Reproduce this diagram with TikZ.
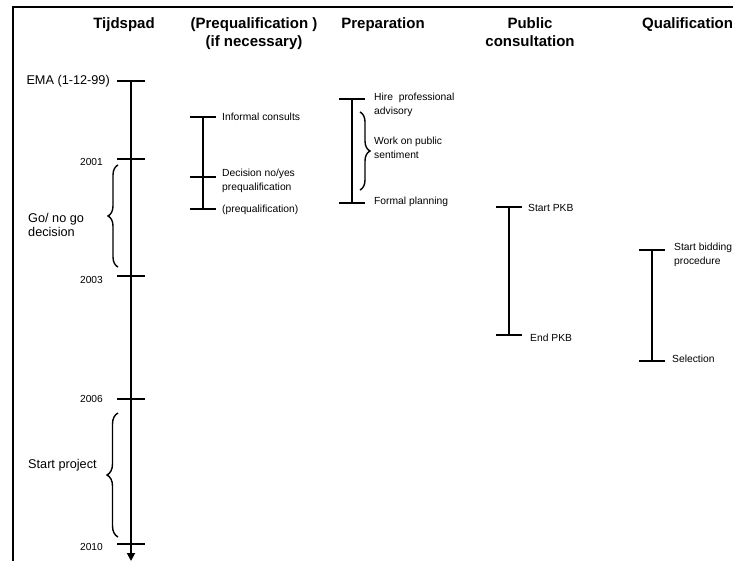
\documentclass[tikz,border=0pt]{standalone}
\usepackage{fontspec}
\setmainfont{Liberation Sans}
\usetikzlibrary{decorations.pathreplacing,arrows.meta}
\begin{document}
\begin{tikzpicture}[x=1pt,y=-1pt,
  frame/.style={line width=2.8pt},
  bar/.style={line width=1.8pt},
  curly/.style={decorate,decoration={brace,amplitude=#1,aspect=0.5},line width=1.4pt},
  title/.style={font=\fontsize{15}{18}\selectfont\bfseries,align=center,inner sep=0pt},
  big/.style={font=\fontsize{12.7}{14.5}\selectfont,align=left,inner sep=0pt},
  year/.style={font=\fontsize{10.2}{12}\selectfont,inner sep=0pt,anchor=east},
  small/.style={font=\fontsize{10.3}{14}\selectfont,inner sep=0pt,anchor=west,align=left},
]
\useasboundingbox (0,0) rectangle (733,561);
\clip (0,0) rectangle (733,561);

% outer frame (top and left edges)
\draw[frame] (13,561) -- (13,7) -- (733,7);

% column titles
\node[title] (hTijd) at (124,25) {Tijdspad};
\node[title,anchor=north] (hPre) at (254,17) {(Prequalification )\\(if necessary)};
\node[title] (hPrep) at (383,25) {Preparation};
\node[title,anchor=north] (hPub) at (530,17) {Public\\consultation};
\node[title,anchor=west] (hQual) at (642,25) {Qualification};

% ---- time axis ----
\coordinate (ema) at (131,81);
\coordinate (y01) at (131,159);
\coordinate (y03) at (131,276);
\coordinate (y06) at (131,399);
\coordinate (y10) at (131,544);
\coordinate (axend) at (131,561);
\draw[bar,-{Triangle[width=8pt,length=8pt]}] (ema) -- (axend);
\foreach \c in {ema,y01,y03,y06,y10}
  \draw[bar] ([xshift=-14pt]\c) -- ([xshift=14pt]\c);

\node[big,anchor=east] (lEma) at (110,81) {EMA (1-12-99)};
\node[year] (l01) at (103,162) {2001};
\node[year] (l03) at (103,280) {2003};
\node[year] (l06) at (103,399) {2006};
\node[year] (l10) at (103,547) {2010};

\coordinate (b1top) at (118,165);
\coordinate (b1bot) at (118,267);
\draw[curly=10pt] (b1bot) -- (b1top);
\node[big,anchor=west] (lGo) at (28,225) {Go/ no go\\decision};

\coordinate (b2top) at (118,413);
\coordinate (b2bot) at (118,537);
\draw[curly=11pt] (b2bot) -- (b2top);
\node[big,anchor=west] (lStart) at (28,465) {Start project};

% ---- prequalification ----
\coordinate (p1) at (203,117);
\coordinate (p2) at (203,177);
\coordinate (p3) at (203,209);
\draw[bar] (p1) -- (p3);
\foreach \c in {p1,p2,p3}
  \draw[bar] ([xshift=-13pt]\c) -- ([xshift=13pt]\c);
\node[small] (lInf) at (222,117) {Informal consults};
\node[small,anchor=north west] (lDec) at (222,169) {Decision no/yes\\prequalification};
\node[small] (lPq) at (222,210) {(prequalification)};

% ---- preparation ----
\coordinate (r1) at (352,99);
\coordinate (r2) at (352,203);
\draw[bar] (r1) -- (r2);
\foreach \c in {r1,r2}
  \draw[bar] ([xshift=-13pt]\c) -- ([xshift=13pt]\c);
\coordinate (b3top) at (360,112);
\coordinate (b3bot) at (360,190);
\draw[curly=10pt] (b3top) -- (b3bot);
\node[small,anchor=north west] (lHire) at (374,93) {Hire\ \ professional\\advisory};
\node[small,anchor=north west] (lWork) at (374,137) {Work on public\\sentiment};
\node[small] (lForm) at (374,202) {Formal planning};

% ---- public consultation ----
\coordinate (c1) at (509,207);
\coordinate (c2) at (509,335);
\draw[bar] (c1) -- (c2);
\foreach \c in {c1,c2}
  \draw[bar] ([xshift=-13pt]\c) -- ([xshift=13pt]\c);
\node[small] (lSpkb) at (528,208) {Start PKB};
\node[small] (lEpkb) at (530,338) {End PKB};

% ---- qualification ----
\coordinate (q1) at (652,250);
\coordinate (q2) at (652,361);
\draw[bar] (q1) -- (q2);
\foreach \c in {q1,q2}
  \draw[bar] ([xshift=-13pt]\c) -- ([xshift=13pt]\c);
\node[small,anchor=north west] (lBid) at (674,243) {Start bidding\\procedure};
\node[small] (lSel) at (672,359) {Selection};
\end{tikzpicture}
\end{document}
